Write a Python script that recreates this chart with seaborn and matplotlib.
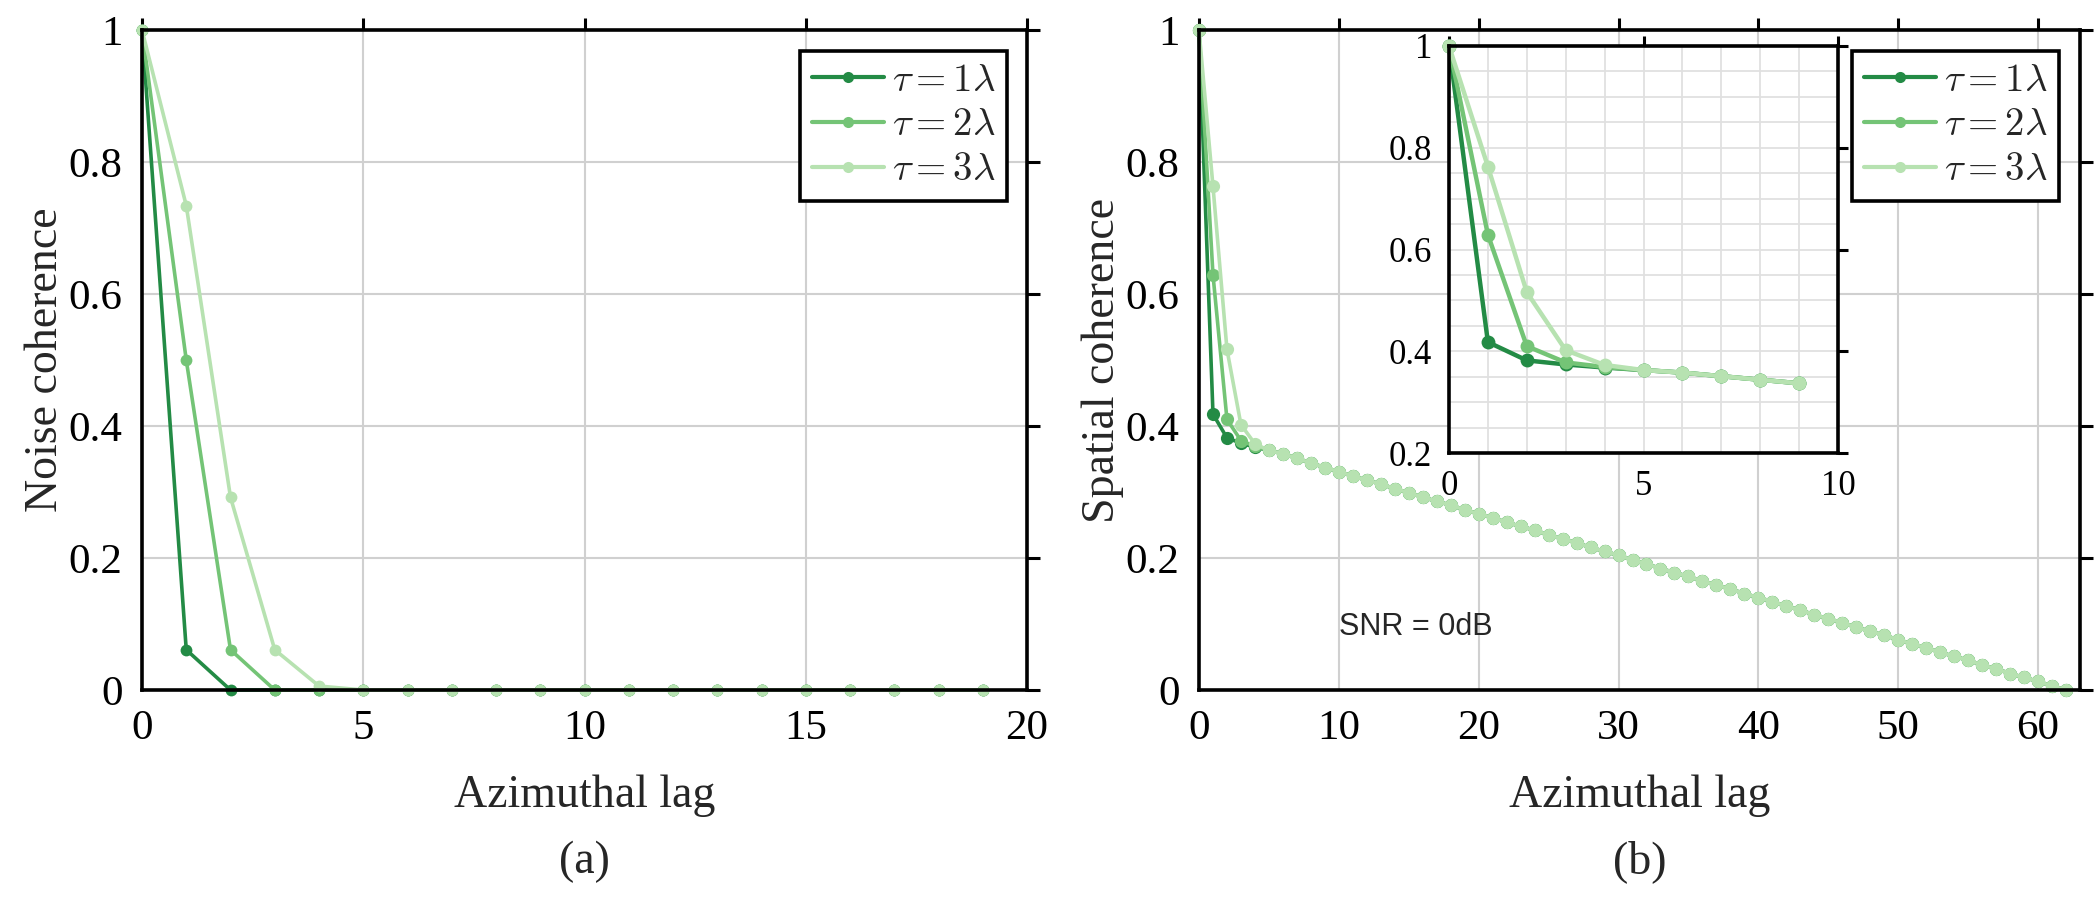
import matplotlib
matplotlib.use("Agg")
import matplotlib.pyplot as plt
import seaborn as sns
from matplotlib.ticker import MultipleLocator, FuncFormatter, FixedLocator
from matplotlib.lines import Line2D

# ---------------- data ----------------
series_labels = [r"$\tau = 1\lambda$", r"$\tau = 2\lambda$", r"$\tau = 3\lambda$"]
series_colors = ["#238b45", "#74c476", "#b7e2b1"]

noise_lags = list(range(20))
noise_tau1 = [1.000, 0.061, 0.000, 0.000, 0.000, 0.000, 0.000, 0.000, 0.000, 0.000,
              0.000, 0.000, 0.000, 0.000, 0.000, 0.000, 0.000, 0.000, 0.000, 0.000]
noise_tau2 = [1.000, 0.500, 0.061, 0.000, 0.000, 0.000, 0.000, 0.000, 0.000, 0.000,
              0.000, 0.000, 0.000, 0.000, 0.000, 0.000, 0.000, 0.000, 0.000, 0.000]
noise_tau3 = [1.000, 0.734, 0.292, 0.061, 0.006, 0.000, 0.000, 0.000, 0.000, 0.000,
              0.000, 0.000, 0.000, 0.000, 0.000, 0.000, 0.000, 0.000, 0.000, 0.000]

spatial_lags = list(range(63))
spatial_head_tau1 = [1.000, 0.418, 0.382, 0.374, 0.368]
spatial_head_tau2 = [1.000, 0.629, 0.410, 0.378, 0.369]
spatial_head_tau3 = [1.000, 0.763, 0.516, 0.402, 0.373]
# lags 5..62 (identical for all three)
spatial_tail = [0.363, 0.358, 0.351, 0.344, 0.337, 0.331, 0.324, 0.318, 0.312, 0.305,
                0.299, 0.292, 0.286, 0.280, 0.273, 0.267, 0.261, 0.254, 0.248, 0.242,
                0.235, 0.229, 0.223, 0.216, 0.210, 0.204, 0.197, 0.191, 0.184, 0.178,
                0.172, 0.165, 0.159, 0.153, 0.146, 0.140, 0.134, 0.127, 0.121, 0.114,
                0.108, 0.102, 0.095, 0.089, 0.083, 0.076, 0.070, 0.064, 0.057, 0.051,
                0.045, 0.038, 0.032, 0.025, 0.019, 0.013, 0.006, 0.000]
spatial_tau1 = spatial_head_tau1 + spatial_tail
spatial_tau2 = spatial_head_tau2 + spatial_tail
spatial_tau3 = spatial_head_tau3 + spatial_tail

inset_n = 10

# ---------------- style ----------------
sns.set_theme(style="white")
plt.rcParams["font.family"] = ["Liberation Serif", "DejaVu Serif"]
plt.rcParams["mathtext.fontset"] = "cm"

FS = 31      # tick labels, (a)/(b)
LBS = 33     # axis labels
LFS = 28     # legend
fig = plt.figure(figsize=(21, 8.99), dpi=100)
W, H = 2100, 899


def box(l, t, r, b):
    return [l / W, 1 - b / H, (r - l) / W, (b - t) / H]


fmt = FuncFormatter(lambda v, p: "%g" % round(v, 6))


def style_axes(ax, fs, ticklen=9):
    for s in ax.spines.values():
        s.set_color("black")
        s.set_linewidth(2.6)
    ax.tick_params(which="major", direction="out", length=ticklen, width=2.2,
                   colors="black", labelsize=fs, top=True, right=True,
                   labeltop=False, labelright=False, pad=5)
    ax.xaxis.set_major_formatter(fmt)
    ax.yaxis.set_major_formatter(fmt)
    ax.set_axisbelow(True)


def draw(ax, x, ys, ms, lw):
    for y, c in zip(ys, series_colors):
        sns.lineplot(x=x, y=y, ax=ax, color=c, marker="o", markersize=ms,
                     markeredgewidth=0, linewidth=lw, legend=False, clip_on=False)


def add_legend(ax, right_px, top_px, ax_w, ax_h):
    handles = [Line2D([], [], color=c, marker="o", markersize=8, markeredgewidth=0,
                      linewidth=3) for c in series_colors]
    leg = ax.legend(handles, series_labels, loc="upper right",
                    bbox_to_anchor=(1 - right_px / ax_w, 1 - top_px / ax_h),
                    borderaxespad=0, fontsize=LFS, frameon=True, fancybox=False,
                    framealpha=1, edgecolor="black", handlelength=1.85,
                    handletextpad=0.2, labelspacing=0.2, borderpad=0.3)
    leg.get_frame().set_linewidth(2.6)
    return leg


# ---------------- panel (a) ----------------
ax1 = fig.add_axes(box(142, 30, 1027, 690))
draw(ax1, noise_lags, [noise_tau1, noise_tau2, noise_tau3], 8.5, 2.6)
ax1.set_xlim(0, 20)
ax1.set_ylim(0, 1)
ax1.xaxis.set_major_locator(MultipleLocator(5))
ax1.yaxis.set_major_locator(MultipleLocator(0.2))
ax1.grid(True, color="#d0d0d0", linewidth=1.5)
style_axes(ax1, FS)
ax1.set_xlabel("Azimuthal lag", fontsize=LBS, labelpad=19)
ax1.set_ylabel("Noise coherence", fontsize=LBS, labelpad=1)
add_legend(ax1, 20, 21, 885, 660)
fig.text((142 + 1027) / 2 / W, 1 - 862 / H, "(a)", ha="center", va="center", fontsize=LBS)

# ---------------- panel (b) ----------------
ax2 = fig.add_axes(box(1199, 30, 2080, 690))
draw(ax2, spatial_lags, [spatial_tau1, spatial_tau2, spatial_tau3], 9.5, 2.6)
ax2.set_xlim(0, 63)
ax2.set_ylim(0, 1)
ax2.xaxis.set_major_locator(MultipleLocator(10))
ax2.yaxis.set_major_locator(MultipleLocator(0.2))
ax2.grid(True, color="#d0d0d0", linewidth=1.5)
style_axes(ax2, FS)
ax2.set_xlabel("Azimuthal lag", fontsize=LBS, labelpad=19)
ax2.set_ylabel("Spatial coherence", fontsize=LBS, labelpad=1)
add_legend(ax2, 21, 21, 881, 660)
ax2.text(10.0, 0.095, "SNR = 0dB", fontsize=22, family="Liberation Sans",
         ha="left", va="center")
fig.text((1199 + 2080) / 2 / W, 1 - 862 / H, "(b)", ha="center", va="center", fontsize=LBS)

# ---------------- inset ----------------
axi = fig.add_axes(box(1449, 46, 1838, 453))
axi.set_facecolor("white")
draw(axi, spatial_lags[:inset_n],
     [spatial_tau1[:inset_n], spatial_tau2[:inset_n], spatial_tau3[:inset_n]], 10, 3.2)
axi.set_xlim(0, 10)
axi.set_ylim(0.2, 1)
axi.xaxis.set_major_locator(FixedLocator([0, 5, 10]))
axi.yaxis.set_major_locator(FixedLocator([0.2, 0.4, 0.6, 0.8, 1.0]))
axi.xaxis.set_minor_locator(MultipleLocator(1))
axi.yaxis.set_minor_locator(MultipleLocator(0.05))
axi.grid(True, which="both", color="#e0e0e0", linewidth=1.3)
style_axes(axi, 25, ticklen=7)
axi.tick_params(which="minor", length=0)

fig.savefig("out.png", dpi=100)
